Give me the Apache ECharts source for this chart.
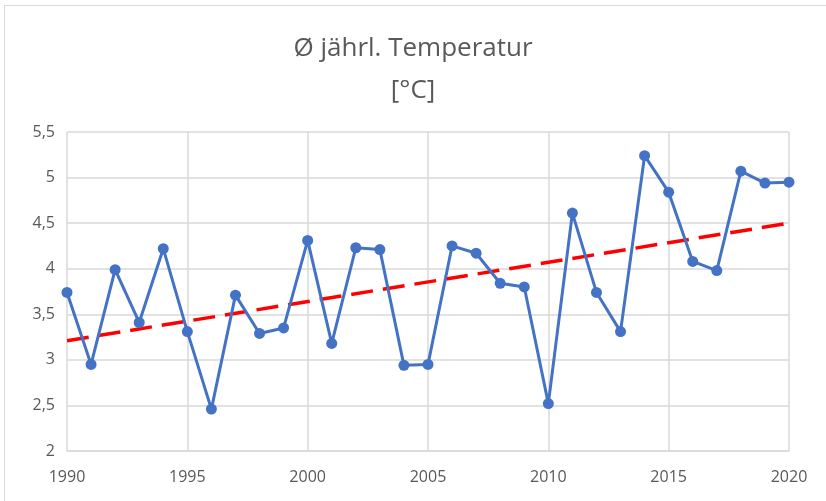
<!DOCTYPE html>
<html>
<head>
<meta charset="utf-8">
<script src="https://cdn.jsdelivr.net/npm/echarts@6/dist/echarts.min.js"></script>
<style>
  html, body { margin: 0; padding: 0; background: #fff; }
  #frame { position: absolute; left: 4px; top: 5px; width: 830px; height: 500px; border: 1px solid #d9d9d9; box-sizing: border-box; }
  #chart { width: 826px; height: 501px; position: absolute; left: 0; top: 0; }
</style>
</head>
<body>
<div id="frame"></div>
<div id="chart"></div>
<script>
// Jahresmittel der Temperatur
const years = [1990, 1991, 1992, 1993, 1994, 1995, 1996, 1997, 1998, 1999, 2000,
  2001, 2002, 2003, 2004, 2005, 2006, 2007, 2008, 2009, 2010,
  2011, 2012, 2013, 2014, 2015, 2016, 2017, 2018, 2019, 2020];
const temps = [3.74, 2.95, 3.99, 3.41, 4.22, 3.31, 2.46, 3.71, 3.29, 3.35, 4.31,
  3.18, 4.23, 4.21, 2.94, 2.95, 4.25, 4.17, 3.84, 3.80, 2.52,
  4.61, 3.74, 3.31, 5.24, 4.84, 4.08, 3.98, 5.07, 4.94, 4.95];
// linearer Trend: Endpunkte
const trendYears = [1990, 2020];
const trendValues = [3.21, 4.50];

const chart = echarts.init(document.getElementById('chart'));

const labelColor = '#595959';
const gridColor = '#d9d9d9';

chart.setOption({
  animation: false,
  textStyle: { fontFamily: 'Open Sans' },
  title: {
    text: 'Ø jährl. Temperatur\n[°C]',
    left: 'center',
    top: 23,
    textStyle: { color: labelColor, fontSize: 26, fontWeight: 'normal', lineHeight: 42, fontFamily: 'Open Sans' }
  },
  grid: { left: 67, right: 37, top: 132, bottom: 50 },
  xAxis: {
    type: 'value',
    min: 1990,
    max: 2020,
    interval: 5,
    axisLine: { show: true, lineStyle: { color: gridColor, width: 1.5 } },
    axisTick: { show: false },
    axisLabel: { color: labelColor, fontSize: 16, margin: 18, formatter: (v) => String(v) },
    splitLine: { show: true, lineStyle: { color: gridColor, width: 1.5 } }
  },
  yAxis: {
    type: 'value',
    min: 2,
    max: 5.5,
    interval: 0.5,
    axisLine: { show: false },
    axisTick: { show: false },
    axisLabel: {
      color: labelColor,
      fontSize: 16,
      margin: 12,
      formatter: (v) => String(v).replace('.', ',')
    },
    splitLine: { show: true, lineStyle: { color: gridColor, width: 1.5 } }
  },
  series: [
    {
      type: 'line',
      data: years.map((y, i) => [y, temps[i]]),
      symbol: 'circle',
      symbolSize: 11,
      lineStyle: { color: '#4472C4', width: 3 },
      itemStyle: { color: '#4472C4' },
      z: 3
    },
    {
      type: 'line',
      data: trendYears.map((y, i) => [y, trendValues[i]]),
      symbol: 'none',
      lineStyle: { color: '#FF0000', width: 3.5, type: [22, 10] },
      z: 2
    }
  ]
});
</script>
</body>
</html>
